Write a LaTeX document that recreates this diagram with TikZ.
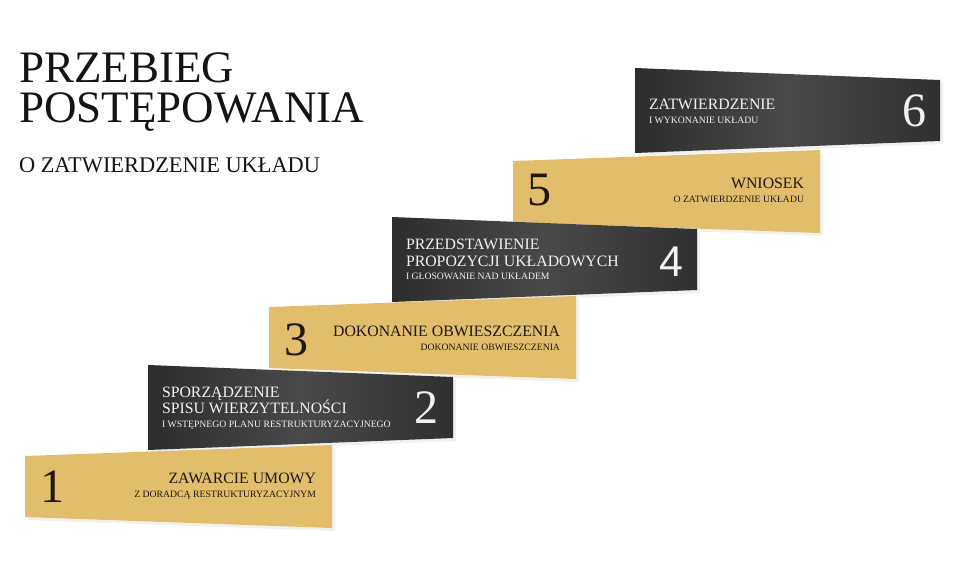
\documentclass[tikz,border=0pt]{standalone}
\usepackage{fontspec}
\setmainfont{Liberation Serif}
\newfontfamily\numsans{Liberation Sans}
\definecolor{gold}{HTML}{E2BD6B}
\definecolor{darkA}{HTML}{2E2D2D}
\definecolor{darkB}{HTML}{4A4949}
\definecolor{darkC}{HTML}{313030}
\definecolor{inkD}{HTML}{1E1810}
\definecolor{inkL}{HTML}{F2F2F2}
\definecolor{titleink}{HTML}{141414}
\definecolor{shadowc}{HTML}{F1F1F1}
\begin{document}
\begin{tikzpicture}[x=1pt,y=-1pt,
  goldbox/.style={fill=gold},
  darkbox/.style={left color=darkA,right color=darkC,middle color=darkB},
  shadowbox/.style={fill=shadowc,xshift=3pt,yshift=-3pt},
  lbl/.style={inner sep=0pt,outer sep=0pt},
  titlelbl/.style={lbl,anchor=north west,align=left,text=titleink,font=\fontsize{45}{40}\selectfont},
  mainlbl/.style={lbl,font=\fontsize{15.8}{17}\selectfont},
  sublbl/.style={lbl,font=\fontsize{9.7}{10}\selectfont},
  numlbl/.style={lbl,font=\fontsize{48}{48}\selectfont},
  onlight/.style={text=inkD},
  ondark/.style={text=inkL},
]
\useasboundingbox (0,0) rectangle (960,576);
\fill[white] (0,0) rectangle (960,576);

% title
\node[titlelbl] (title) at (19,53.2) {PRZEBIEG\\POSTĘPOWANIA};
\node[lbl,anchor=base west,text=titleink,font=\fontsize{22.4}{22}\selectfont] (subtitle) at (19,172) {O ZATWIERDZENIE UKŁADU};

% faint shadows
\fill[shadowbox] (25,456) -- (332,445) -- (332,528) -- (25,517) -- cycle;
\fill[shadowbox] (269,307) -- (576,296) -- (576,379) -- (269,368) -- cycle;
\fill[shadowbox] (513,161) -- (820,150) -- (820,233) -- (513,222) -- cycle;
\fill[shadowbox] (148,365) -- (453,377) -- (453,438) -- (148,450) -- cycle;
\fill[shadowbox] (392,217) -- (697,229) -- (697,290) -- (392,302) -- cycle;
\fill[shadowbox] (635,68) -- (940,80) -- (940,141) -- (635,153) -- cycle;

% gold steps
\fill[goldbox] (25,456) -- (332,445) -- (332,528) -- (25,517) -- cycle;
\fill[goldbox] (269,307) -- (576,296) -- (576,379) -- (269,368) -- cycle;
\fill[goldbox] (513,161) -- (820,150) -- (820,233) -- (513,222) -- cycle;

% dark steps
\shade[darkbox] (148,365) -- (453,377) -- (453,438) -- (148,450) -- cycle;
\shade[darkbox] (392,217) -- (697,229) -- (697,290) -- (392,302) -- cycle;
\shade[darkbox] (635,68) -- (940,80) -- (940,141) -- (635,153) -- cycle;

% step 1
\node[numlbl,onlight,anchor=base] (n1) at (52,502) {1};
\node[mainlbl,onlight,anchor=base east] (s1a) at (316,483) {ZAWARCIE UMOWY};
\node[sublbl,onlight,anchor=base east] (s1b) at (316,497) {Z DORADCĄ RESTRUKTURYZACYJNYM};

% step 2
\node[numlbl,ondark,anchor=base] (n2) at (426,423) {2};
\node[mainlbl,ondark,anchor=base west] (s2a) at (162,397) {SPORZĄDZENIE};
\node[mainlbl,ondark,anchor=base west] (s2b) at (162,413) {SPISU WIERZYTELNOŚCI};
\node[sublbl,ondark,anchor=base west] (s2c) at (162,427) {I WSTĘPNEGO PLANU RESTRUKTURYZACYJNEGO};

% step 3
\node[numlbl,onlight,anchor=base] (n3) at (296,355) {3};
\node[mainlbl,onlight,anchor=base east] (s3a) at (560,336) {DOKONANIE OBWIESZCZENIA};
\node[sublbl,onlight,anchor=base east] (s3b) at (560,350) {DOKONANIE OBWIESZCZENIA};

% step 4
\node[lbl,ondark,anchor=base,font=\numsans\fontsize{43}{43}\selectfont] (n4) at (671,276) {4};
\node[mainlbl,ondark,anchor=base west] (s4a) at (406,249) {PRZEDSTAWIENIE};
\node[mainlbl,ondark,anchor=base west] (s4b) at (406,266) {PROPOZYCJI UKŁADOWYCH};
\node[sublbl,ondark,anchor=base west] (s4c) at (406,279) {I GŁOSOWANIE NAD UKŁADEM};

% step 5
\node[numlbl,onlight,anchor=base] (n5) at (539,205) {5};
\node[mainlbl,onlight,anchor=base east] (s5a) at (804,188) {WNIOSEK};
\node[sublbl,onlight,anchor=base east] (s5b) at (804,202) {O ZATWIERDZENIE UKŁADU};

% step 6
\node[numlbl,ondark,anchor=base] (n6) at (914,126) {6};
\node[mainlbl,ondark,anchor=base west] (s6a) at (649,109) {ZATWIERDZENIE};
\node[sublbl,ondark,anchor=base west] (s6b) at (649,123) {I WYKONANIE UKŁADU};
\end{tikzpicture}
\end{document}
